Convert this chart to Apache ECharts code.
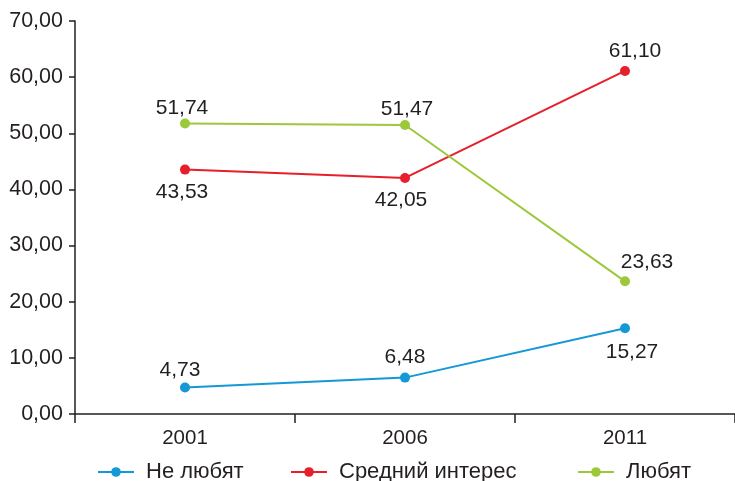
<!DOCTYPE html>
<html><head><meta charset="utf-8">
<script src="https://cdn.jsdelivr.net/npm/echarts@6/dist/echarts.min.js"></script>
<style>html,body{margin:0;padding:0;background:#fff}#c{width:735px;height:481px}</style>
</head><body><div id="c"></div>
<script>
const categories = ['2001', '2006', '2011'];
const seriesNames = ['Не любят', 'Средний интерес', 'Любят'];
const neLyubyat = [4.73, 6.48, 15.27];
const sredniy = [43.53, 42.05, 61.10];
const lyubyat = [51.74, 51.47, 23.63];
const yTicks = [0, 10, 20, 30, 40, 50, 60, 70];

// label placement (style only)
const labelPos = [['top', 'top', 'bottom'], ['bottom', 'bottom', 'top'], ['top', 'top', 'top']];
const labelShift = [
  [[-5, 2], [0, -1], [7, 1]],
  [[-3, 0], [-4, 0], [10, 0]],
  [[-3, 4], [2, 4], [22, 0]]
];

const FONT = '"Liberation Sans", Arial, Helvetica, sans-serif';
const TXT = '#231f20';
const colors = ['#1598d6', '#e61f2a', '#9cc83a'];
const fmt = v => Number(v).toFixed(2).replace('.', ',');

function mk(idx, data) {
  const color = colors[idx];
  return {
    name: seriesNames[idx], type: 'line',
    data: data.map((v, i) => ({
      value: v,
      label: {
        position: labelPos[idx][i],
        distance: labelPos[idx][i] === 'top' ? 4 : 7,
        offset: labelShift[idx][i]
      }
    })),
    color,
    symbol: 'circle', symbolSize: 10,
    lineStyle: { width: 2, color },
    itemStyle: { color },
    label: {
      show: true, fontSize: 21, fontFamily: FONT, color: TXT,
      formatter: p => fmt(p.value)
    },
    emphasis: { disabled: true }
  };
}

const chart = echarts.init(document.getElementById('c'), null, { renderer: 'canvas' });
const legendBase = {
  top: 461, padding: 0, itemWidth: 36, itemHeight: 12,
  textStyle: { fontSize: 22, fontFamily: FONT, color: TXT, padding: [0, 0, 0, 7] },
  selectedMode: false
};
chart.setOption({
  animation: false,
  grid: { left: 75, top: 21, width: 662, height: 393, containLabel: false },
  legend: [
    Object.assign({}, legendBase, { left: 97, data: [seriesNames[0]] }),
    Object.assign({}, legendBase, { left: 290, data: [seriesNames[1]] }),
    Object.assign({}, legendBase, { left: 577, data: [seriesNames[2]] })
  ],
  xAxis: {
    type: 'category', data: categories, boundaryGap: true,
    axisLine: { lineStyle: { color: TXT, width: 1.5 } },
    axisTick: { show: true, length: 9, lineStyle: { color: TXT, width: 1.5 } },
    axisLabel: { fontSize: 20.5, fontFamily: FONT, color: TXT, margin: 14 },
    splitLine: { show: false }
  },
  yAxis: {
    type: 'value', min: yTicks[0], max: yTicks[yTicks.length - 1], interval: 10,
    axisLine: { show: true, lineStyle: { color: TXT, width: 1.5 } },
    axisTick: { show: true, length: 6, lineStyle: { color: TXT, width: 1.5 } },
    axisLabel: { fontSize: 21.5, fontFamily: FONT, color: TXT, margin: 12, formatter: v => fmt(v) },
    splitLine: { show: false }
  },
  series: [mk(0, neLyubyat), mk(1, sredniy), mk(2, lyubyat)]
});
</script></body></html>
